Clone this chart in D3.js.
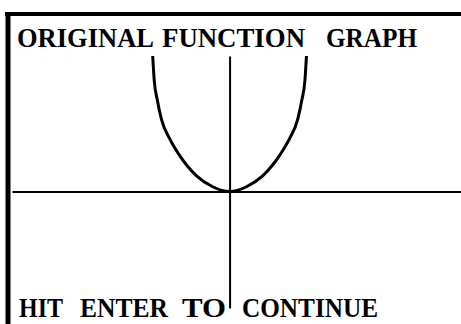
<!DOCTYPE html>
<html>
<head>
<meta charset="utf-8">
<script src="https://cdn.jsdelivr.net/npm/d3@7"></script>
<style>
  html, body { margin: 0; padding: 0; background: #fff; }
  svg { display: block; }
  .word { font-family: "Liberation Serif", "Times New Roman", serif; font-weight: bold; font-size: 28px; fill: #000; }
  .axis path { stroke: #000; stroke-width: 2; }
</style>
</head>
<body>
<script>
// curve points (x, y in graph units)
var curveX = [-1.0, -0.98, -0.94, -0.885, -0.78, -0.655, -0.43, -0.22, 0, 0.22, 0.43, 0.655, 0.78, 0.885, 0.94, 0.98, 1.0];
var curveY = [1.0, 0.82, 0.675, 0.53, 0.39, 0.27, 0.115, 0.035, 0, 0.035, 0.115, 0.27, 0.39, 0.53, 0.675, 0.82, 1.0];
var titleWords = ["ORIGINAL", "FUNCTION", "GRAPH"];
var footerWords = ["HIT", "ENTER", "TO", "CONTINUE"];

var width = 461, height = 324;

// word boxes [left, right] in pixels
var titleSpans = [[17, 154], [162, 305], [326, 417]];
var footerSpans = [[19, 63], [80, 168], [182, 226], [242, 378]];

var svg = d3.select("body").append("svg")
    .attr("width", width)
    .attr("height", height);

var xScale = d3.scaleLinear()
    .domain([-2.83, 3.01])
    .range([12, 461]);

var yScale = d3.scaleLinear()
    .domain([-0.86, 1.0])
    .range([308, 56]);

// screen frame: thick top and left edges
svg.append("line")
    .attr("x1", 5).attr("x2", width)
    .attr("y1", 14).attr("y2", 14)
    .attr("stroke", "#000").attr("stroke-width", 4);
svg.append("line")
    .attr("x1", 8).attr("x2", 8)
    .attr("y1", 12).attr("y2", height)
    .attr("stroke", "#000").attr("stroke-width", 5);

// axes, no ticks
svg.append("g")
    .attr("class", "axis")
    .attr("transform", "translate(0," + yScale(0) + ")")
    .call(d3.axisBottom(xScale).tickValues([]).tickSizeOuter(0));

svg.append("g")
    .attr("class", "axis")
    .attr("transform", "translate(" + xScale(0) + ",0)")
    .call(d3.axisLeft(yScale).tickValues([]).tickSizeOuter(0));

var line = d3.line()
    .x(function(d) { return xScale(d[0]); })
    .y(function(d) { return yScale(d[1]); })
    .curve(d3.curveMonotoneX);

svg.append("path")
    .datum(d3.zip(curveX, curveY))
    .attr("d", line)
    .attr("fill", "none")
    .attr("stroke", "#000")
    .attr("stroke-width", 3);

function words(list, spans, baseline) {
    svg.selectAll(null)
        .data(list)
        .enter()
        .append("text")
        .attr("class", "word")
        .attr("x", function(d, i) { return spans[i][0]; })
        .attr("y", baseline)
        .attr("textLength", function(d, i) { return spans[i][1] - spans[i][0]; })
        .attr("lengthAdjust", "spacingAndGlyphs")
        .text(function(d) { return d; });
}

words(titleWords, titleSpans, 47);
words(footerWords, footerSpans, 317);
</script>
</body>
</html>
